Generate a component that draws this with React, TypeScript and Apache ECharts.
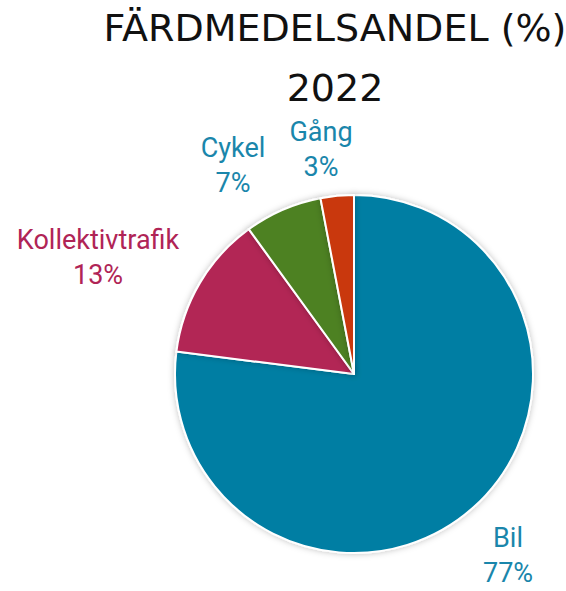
import React, { useEffect, useRef } from "react";
import * as echarts from "echarts";

const categories = ["Bil", "Kollektivtrafik", "Cykel", "Gång"];
const shares = [77, 13, 7, 3];
const sliceColors = ["#007ea3", "#b22555", "#4e8122", "#c9390b"];
const labelColors = ["#1a86ab", "#b02456", "#1a86ab", "#1a86ab"];
// per-label placement tuning (label line lengths; lines hidden) and label box widths
const labelLen = [63.6, 48.9, 48.1, 47];
const labelLen2 = [-41.4, -30.2, -9.2, -25.3];
const labelBoxW = [60, 170, 70, 64];

export default function App() {
  const ref = useRef<HTMLDivElement>(null);
  useEffect(() => {
    if (!ref.current) return;
    const chart = echarts.init(ref.current, null, { renderer: "svg" });
    const data = categories.map((name, i) => ({
      name,
      value: shares[i],
      itemStyle: { color: sliceColors[i] },
      label: {
        rich: {
          n: {
            color: labelColors[i],
            fontSize: 27,
            fontWeight: "normal",
            fontFamily: "Roboto",
            width: labelBoxW[i],
            align: "center",
            lineHeight: 35,
          },
        },
      },
      labelLine: { show: false, length: labelLen[i], length2: labelLen2[i] },
    }));
    chart.setOption({
      animation: false,
      backgroundColor: "#ffffff",
      title: {
        text: "FÄRDMEDELSANDEL (%)\n2022",
        left: 330,
        top: -7,
        textAlign: "center",
        textStyle: {
          fontFamily: "DejaVu Sans",
          fontWeight: "normal",
          fontSize: 38,
          lineHeight: 60,
          color: "#111111",
        },
      },
      series: [
        {
          type: "pie",
          center: [354, 374],
          radius: 179,
          startAngle: 90,
          clockwise: true,
          avoidLabelOverlap: false,
          itemStyle: {
            borderColor: "#ffffff",
            borderWidth: 2,
            shadowBlur: 6,
            shadowColor: "rgba(0,0,0,0.25)",
          },
          label: {
            show: true,
            position: "outside",
            formatter: "{n|{b}}\n{n|{c}%}",
            distanceToLabelLine: 5,
          },
          emphasis: { disabled: true },
          data,
        },
      ],
    });
    return () => chart.dispose();
  }, []);
  return (
    <div
      ref={ref}
      style={{ position: "fixed", left: 0, top: 0, width: 566, height: 591 }}
    />
  );
}
